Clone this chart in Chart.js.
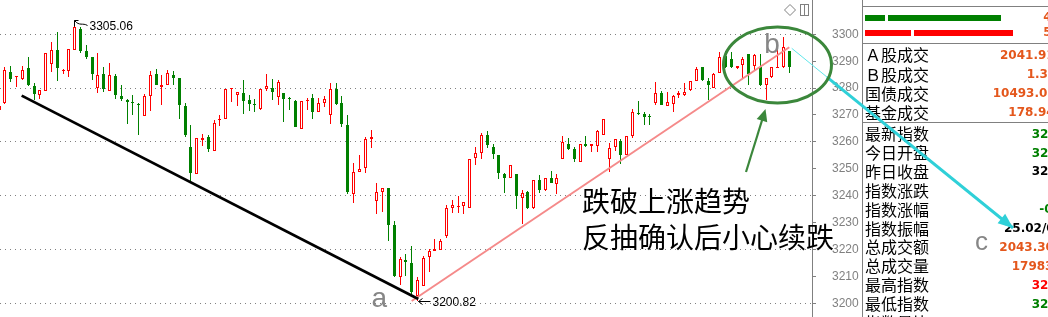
<!DOCTYPE html>
<html><head><meta charset="utf-8">
<script src="https://cdn.jsdelivr.net/npm/chart.js@4/dist/chart.umd.min.js"></script>
<style>html,body{margin:0;padding:0;background:#fff;overflow:hidden}canvas{display:block}</style>
</head><body>
<canvas id="c" width="1048" height="317"></canvas>
<script>
// ---- candle data (index chart) ----
const opens = [3272.0,3274.4,3285.9,3284.0,3283.3,3287.4,3280.9,3277.3,3279.1,3288.9,3294.2,3286.4,3286.5,3294.3,3301.9,3293.8,3291.4,3280.2,3285.2,3279.1,
3284.6,3277.2,3275.7,3274.5,3274.2,3269.5,3276.9,3285.2,3280.4,3281.0,3284.9,3283.9,3273.5,3258.1,3248.1,3260.6,3261.7,3256.5,3268.0,3268.6,
3279.5,3277.4,3278.1,3275.7,3273.9,3272.3,3279.6,3280.2,3276.7,3278.1,3276.0,3275.3,3264.9,3275.1,3276.3,3271.1,3274.4,3270.1,3279.8,3274.4,
3266.4,3240.7,3248.9,3250.4,3261.1,3238.0,3241.5,3243.0,3229.1,3209.6,3216.0,3214.8,3202.8,3206.5,3217.3,3219.3,3219.8,3225.1,3235.6,3235.8,
3236.2,3235.6,3254.1,3255.9,3262.5,3258.1,3255.3,3247.9,3246.4,3248.1,3239.3,3241.5,3235.6,3246.0,3242.1,3246.4,3244.4,3253.8,3259.3,3257.5,
3252.6,3259.3,3258.4,3258.4,3262.7,3253.5,3258.0,3260.5,3255.3,3262.1,3270.6,3270.5,3269.6,3274.4,3278.1,3273.2,3274.1,3277.3,3277.3,3279.4,
3282.8,3287.8,3282.7,3280.2,3285.6,3292.1,3290.7,3287.4,3288.4,3292.6,3288.3,3287.8,3281.2,3284.1,3287.5,3287.8,3293.8];
const highs = [3274.0,3288.0,3288.3,3284.6,3288.3,3291.4,3282.0,3279.3,3293.0,3297.0,3301.0,3287.0,3294.6,3305.06,3302.6,3295.9,3291.4,3293.0,3287.7,3289.5,
3285.2,3281.0,3276.0,3277.3,3274.4,3277.8,3286.4,3287.0,3284.9,3286.8,3286.4,3283.9,3274.4,3266.4,3261.5,3263.0,3262.7,3268.3,3270.1,3279.8,
3279.8,3278.5,3283.1,3277.5,3275.9,3279.8,3285.2,3283.5,3283.1,3278.1,3276.8,3275.7,3275.3,3276.5,3277.9,3276.3,3277.2,3281.9,3281.9,3276.9,
3270.1,3252.2,3255.3,3261.7,3264.6,3244.8,3242.7,3243.0,3230.6,3217.3,3218.5,3221.4,3209.6,3217.7,3220.1,3223.8,3223.8,3236.5,3238.3,3239.9,
3237.7,3253.8,3258.1,3263.3,3264.0,3259.3,3255.3,3248.5,3251.4,3248.1,3242.0,3241.7,3246.0,3247.7,3246.7,3249.1,3247.9,3262.1,3261.5,3258.1,
3259.3,3262.1,3259.3,3264.6,3268.6,3259.6,3261.2,3261.2,3262.3,3272.2,3275.3,3271.1,3270.4,3282.2,3278.8,3278.5,3277.5,3279.0,3281.9,3282.7,
3287.7,3287.8,3283.7,3285.6,3293.3,3293.8,3293.3,3288.3,3291.4,3292.6,3292.6,3292.6,3283.7,3287.8,3294.5,3299.1,3293.8];
const lows = [3271.0,3274.0,3282.1,3280.4,3283.1,3280.6,3275.7,3275.9,3278.8,3285.9,3282.8,3285.2,3284.3,3294.3,3293.2,3291.0,3283.1,3278.0,3278.5,3279.1,
3276.0,3275.3,3266.8,3270.1,3262.7,3269.5,3271.4,3281.0,3273.6,3281.0,3281.2,3268.6,3261.7,3244.8,3248.1,3258.6,3256.3,3256.5,3265.8,3268.4,
3274.7,3273.2,3270.5,3271.6,3271.0,3272.0,3279.0,3275.7,3273.6,3267.3,3271.7,3265.4,3264.7,3271.7,3268.6,3271.1,3272.8,3266.7,3273.8,3265.6,
3240.5,3237.4,3248.9,3248.5,3257.8,3233.1,3234.1,3223.2,3209.6,3206.9,3210.2,3203.5,3200.82,3206.5,3211.5,3219.3,3219.8,3224.4,3233.7,3233.7,
3233.3,3235.6,3251.4,3253.7,3257.8,3253.7,3246.3,3241.1,3246.4,3234.9,3229.4,3235.2,3235.2,3241.1,3241.7,3244.6,3240.5,3253.8,3256.9,3252.5,
3252.6,3258.0,3256.3,3256.3,3262.7,3248.9,3256.5,3251.6,3255.3,3261.5,3270.1,3266.4,3266.2,3273.8,3273.6,3273.2,3271.1,3276.5,3276.9,3279.0,
3282.8,3282.8,3275.7,3280.2,3285.6,3287.4,3287.4,3287.0,3283.3,3281.2,3286.4,3280.9,3275.7,3283.7,3287.3,3287.4,3285.6];
const closes = [3273.5,3286.8,3283.3,3284.3,3286.8,3281.0,3277.8,3279.3,3293.0,3294.2,3287.4,3286.7,3294.6,3302.6,3293.8,3291.4,3285.3,3284.9,3279.8,3284.9,
3277.5,3276.0,3274.8,3274.3,3273.6,3276.9,3284.9,3281.2,3281.2,3285.6,3283.9,3273.6,3262.5,3248.3,3261.5,3261.5,3257.4,3267.0,3268.6,3279.8,
3279.8,3278.5,3275.1,3274.1,3273.7,3279.8,3280.9,3278.4,3282.2,3275.9,3275.9,3265.7,3275.1,3275.6,3271.1,3274.4,3275.9,3279.8,3274.1,3266.7,
3241.5,3248.9,3250.1,3260.9,3261.9,3241.5,3242.7,3229.1,3210.0,3216.4,3215.2,3204.1,3208.8,3217.0,3219.3,3220.1,3223.0,3235.3,3236.5,3236.0,
3237.7,3253.8,3255.9,3262.7,3258.8,3255.6,3248.5,3246.7,3251.4,3239.9,3241.1,3235.6,3245.7,3242.0,3246.4,3244.8,3246.7,3259.9,3257.5,3253.5,
3259.3,3258.6,3259.3,3264.2,3268.6,3257.8,3260.9,3255.1,3262.3,3271.0,3270.4,3269.1,3269.4,3278.1,3273.6,3274.8,3276.9,3278.1,3278.5,3282.7,
3287.0,3283.1,3281.0,3285.2,3291.7,3287.7,3288.0,3288.3,3290.7,3285.2,3292.3,3281.2,3283.7,3287.8,3288.0,3295.4,3288.0];

// ---- axis ----
const yTickValues = [3200,3210,3220,3230,3240,3250,3260,3270,3280,3290,3300];
const gridValues = [3200,3220,3240,3260,3280,3300];
const Y_MIN = 3194.9, Y_MAX = 3312.75;
const X_MIN = 0.14, X_MAX = 139.9;

// ---- drawn trend lines (data coordinates) ----
const supportLine = [{x:3.87,y:3277.2},{x:72.14,y:3201.6}];
const risingLine = [{x:71.0,y:3200.85},{x:135.99,y:3295.2}];
const breakLineThin = [{x:136.41,y:3294.8},{x:142.48,y:3284.1}];
const breakLineThick = [{x:142.48,y:3284.1},{x:174.5,y:3228.0}];

// ---- annotation texts ----
const noteLines = ['跌破上涨趋势','反抽确认后小心续跌'];
const noteAnchor = {x:100.31, y:[3237.8,3224.4]};
const pointLetters = [{t:'a',x:64.1,y:3198.7,s:28},{t:'b',x:131.7,y:3293.05,s:28},{t:'c',x:167.95,y:3219.8,s:26}];
const circleCenter = {x:133.96, y:3288.6};
const greenArrow = [{x:128.54,y:3248.8},{x:131.9,y:3272.2}];

// ---- right info panel ----
const panelLabels = ['Ａ股成交','Ｂ股成交','国债成交','基金成交','最新指数','今日开盘','昨日收盘','指数涨跌','指数涨幅','指数振幅','总成交额','总成交量','最高指数','最低指数','指数量比'];
const panelValues = ['2041.91','1.38','10493.02','178.94','3288.02','3291.96','3290.34','','-0.07%','25.02/0.76%','2043.30','179837','3294.53','3269.51',''];
const panelValueX = [1000,1026.7,992.7,1008.3,1031.7,1031.7,1031.7,1050,1039.3,1004,999.3,1011.7,1031.7,1031.7,1050];
const panelValueColor = ['#e4571c','#e4571c','#e4571c','#e4571c','#008000','#008000','#000','#008000','#008000','#000','#e4571c','#e4571c','#ff0000','#008000','#000'];
const panelRowY = [55,74.5,93.5,112.5,134,152.9,171.8,190.7,209.6,228.5,247.4,266.3,285.2,304.1,323];
const buySellBars = [{c:'#008000',y:15,segs:[[865,885],[888,1001]],v:'4'},{c:'#ff0000',y:30,segs:[[865,911],[914,1013]],v:'5'}];

const idx = opens.map((_, i) => i);
const isUp = i => closes[i] >= opens[i];
const bodyData = idx.map(i => ({x:i, y:[opens[i], closes[i]]}));
const wickData = idx.map(i => ({x:i, y:[lows[i], highs[i]]}));
const RED = '#ff0000', GREEN = '#008000';

function arrowHead(ctx, x1, y1, x2, y2, len, half, color) {
  const a = Math.atan2(y2 - y1, x2 - x1);
  ctx.save();
  ctx.fillStyle = color;
  ctx.beginPath();
  ctx.moveTo(x2, y2);
  ctx.lineTo(x2 - len*Math.cos(a) + half*Math.sin(a), y2 - len*Math.sin(a) - half*Math.cos(a));
  ctx.lineTo(x2 - len*Math.cos(a) - half*Math.sin(a), y2 - len*Math.sin(a) + half*Math.cos(a));
  ctx.closePath();
  ctx.fill();
  ctx.restore();
}

// snap bar elements (positioned by the scales) onto the pixel grid for crisp candles
const pixelSnap = {
  id: 'pixelSnap',
  beforeDatasetsDraw(chart) {
    chart.data.datasets.forEach((ds, di) => {
      const meta = chart.getDatasetMeta(di);
      if (meta.type !== 'bar') return;
      meta.data.forEach(el => {
        el.x = Math.floor(el.x) + 0.5;
        let top = Math.round(Math.min(el.y, el.base));
        let bot = Math.round(Math.max(el.y, el.base));
        if (bot - top < 1) bot = top + 1;
        el.y = top; el.base = bot;
      });
    });
  }
};

const overlay = {
  id: 'overlay',
  beforeDatasetsDraw(chart) {
    const ctx = chart.ctx;
    ctx.save();
    ctx.strokeStyle = '#808080';
    ctx.lineWidth = 1;
    ctx.beginPath();
    ctx.moveTo(862.5, 0); ctx.lineTo(862.5, 317);
    [6.5, 43.5, 122.5].forEach(y => { ctx.moveTo(863, y); ctx.lineTo(1048, y); });
    ctx.stroke();
    buySellBars.forEach(b => {
      ctx.fillStyle = b.c;
      b.segs.forEach(s => ctx.fillRect(s[0], b.y, s[1]-s[0], 6));
      ctx.fillStyle = '#e4571c';
      ctx.font = 'bold 12px "DejaVu Sans"';
      ctx.textBaseline = 'middle';
      ctx.fillText(b.v, 1043.3, b.y + 3);
    });
    ctx.textBaseline = 'middle';
    panelLabels.forEach((t, i) => {
      ctx.fillStyle = '#000';
      ctx.font = '16px "Noto Sans CJK SC"';
      ctx.textAlign = 'left';
      ctx.fillText(t, 865, panelRowY[i]);
      if (panelValues[i]) {
        ctx.fillStyle = panelValueColor[i];
        ctx.font = 'bold 12px "DejaVu Sans"';
        ctx.fillText(panelValues[i], panelValueX[i], panelRowY[i] + 0.5);
      }
    });
    ctx.strokeStyle = '#808080';
    ctx.beginPath();
    ctx.moveTo(790, 4.5); ctx.lineTo(795.5, 10); ctx.lineTo(790, 15.5); ctx.lineTo(784.5, 10); ctx.closePath();
    ctx.stroke();
    ctx.strokeRect(800.5, 4.5, 8, 11);
    ctx.beginPath(); ctx.moveTo(804.5, 4.5); ctx.lineTo(804.5, 15.5); ctx.stroke();
    ctx.restore();
  },
  afterDatasetsDraw(chart) {
    const ctx = chart.ctx, xs = chart.scales.x, ys = chart.scales.y;
    const X = v => xs.getPixelForValue(v), Y = v => ys.getPixelForValue(v);
    ctx.save();
    let hi = 0, lo = 0;
    idx.forEach(i => { if (highs[i] > highs[hi]) hi = i; if (lows[i] < lows[lo]) lo = i; });
    ctx.strokeStyle = '#000'; ctx.lineWidth = 1; ctx.fillStyle = '#000';
    let hx = Math.floor(X(hi)) + 0.5, hy = Math.round(Y(highs[hi])) - 0.5;
    ctx.beginPath();
    ctx.moveTo(hx, hy + 6); ctx.lineTo(hx, hy); ctx.lineTo(hx + 4, hy);
    ctx.moveTo(hx, hy);
    ctx.bezierCurveTo(hx + 5, hy + 6, hx + 8, hy + 2, hx + 13, hy + 5);
    ctx.stroke();
    ctx.font = '12px "Liberation Sans"';
    ctx.textBaseline = 'middle'; ctx.textAlign = 'left';
    ctx.fillText(highs[hi].toFixed(2), hx + 15, hy + 6.5);
    let lx = Math.floor(X(lo)) + 1.5, ly = Math.round(Y(lows[lo])) + 0.5;
    ctx.beginPath();
    ctx.moveTo(lx, ly); ctx.lineTo(lx + 12, ly);
    ctx.moveTo(lx + 4, ly - 3); ctx.lineTo(lx, ly); ctx.lineTo(lx + 4, ly + 3);
    ctx.stroke();
    ctx.fillText(lows[lo].toFixed(2), lx + 14, ly + 1.5);
    ctx.strokeStyle = '#3b873b'; ctx.lineWidth = 3;
    ctx.beginPath();
    ctx.ellipse(X(circleCenter.x), Y(circleCenter.y), 54, 38, 0, 0, Math.PI*2);
    ctx.stroke();
    const ax1 = X(greenArrow[0].x), ay1 = Y(greenArrow[0].y), ax2 = X(greenArrow[1].x), ay2 = Y(greenArrow[1].y);
    ctx.lineWidth = 2.2;
    ctx.beginPath(); ctx.moveTo(ax1, ay1); ctx.lineTo(ax1 + (ax2-ax1)*0.85, ay1 + (ay2-ay1)*0.85); ctx.stroke();
    arrowHead(ctx, ax1, ay1, ax2, ay2, 12, 5.5, '#3b873b');
    ctx.fillStyle = '#868686';
    ctx.textBaseline = 'alphabetic';
    pointLetters.forEach(p => {
      ctx.font = p.s + 'px "Liberation Sans"';
      ctx.fillText(p.t, X(p.x), Y(p.y));
    });
    ctx.fillStyle = '#000';
    ctx.font = '28px "Noto Sans CJK SC"';
    ctx.textBaseline = 'middle';
    noteLines.forEach((t, i) => ctx.fillText(t, X(noteAnchor.x), Y(noteAnchor.y[i])));
    const p0 = breakLineThick[0], p1 = breakLineThick[1];
    arrowHead(ctx, X(p0.x), Y(p0.y), X(p1.x), Y(p1.y), 15, 6, '#2fd0d8');
    ctx.restore();
  }
};

new Chart(document.getElementById('c'), {
  type: 'bar',
  data: {
    datasets: [
      { type: 'line', data: supportLine, borderColor: '#000', borderWidth: 2.8, pointRadius: 0, order: 0 },
      { type: 'line', data: risingLine, borderColor: '#f58a8a', borderWidth: 2, pointRadius: 0, order: 0 },
      { type: 'line', data: breakLineThin, borderColor: '#5fe6ea', borderWidth: 1, pointRadius: 0, order: 0, clip: false },
      { type: 'line', data: breakLineThick, borderColor: '#2fd0d8', borderWidth: 3, pointRadius: 0, order: 0, clip: false },
      { data: bodyData, grouped: false, order: 1, barThickness: 3, minBarLength: 1, borderSkipped: false, inflateAmount: 0,
        backgroundColor: idx.map(i => isUp(i) ? '#ffffff' : GREEN),
        borderColor: idx.map(i => isUp(i) ? RED : GREEN),
        borderWidth: idx.map(i => isUp(i) ? 1 : 0) },
      { data: wickData, grouped: false, order: 2, barThickness: 1, minBarLength: 1, borderWidth: 0, inflateAmount: 0,
        backgroundColor: idx.map(i => isUp(i) ? RED : GREEN) }
    ]
  },
  options: {
    responsive: false, animation: false, devicePixelRatio: 1, events: [],
    layout: { padding: { left: 0, right: 186, top: 0, bottom: 0 } },
    plugins: { legend: { display: false }, tooltip: { enabled: false } },
    scales: {
      x: { type: 'linear', min: X_MIN, max: X_MAX, display: false, offset: false },
      y: {
        type: 'linear', position: 'right', min: Y_MIN, max: Y_MAX,
        afterBuildTicks: s => { s.ticks = yTickValues.map(v => ({ value: v })); },
        afterFit: s => { s.width = 50; s.paddingTop = 0; s.paddingBottom = 0; },
        grid: {
          color: c => (c.tick && gridValues.includes(c.tick.value)) ? '#808080' : 'rgba(0,0,0,0)',
          lineWidth: 1, drawTicks: true, tickLength: 4, tickColor: '#808080', tickWidth: 1, tickBorderDash: []
        },
        border: { display: true, color: '#808080', width: 1, dash: [1, 4] },
        ticks: { color: '#808080', font: { family: 'Liberation Sans', size: 12 }, padding: 16, autoSkip: false, callback: v => String(v) }
      }
    }
  },
  plugins: [pixelSnap, overlay]
});
</script>
</body></html>
